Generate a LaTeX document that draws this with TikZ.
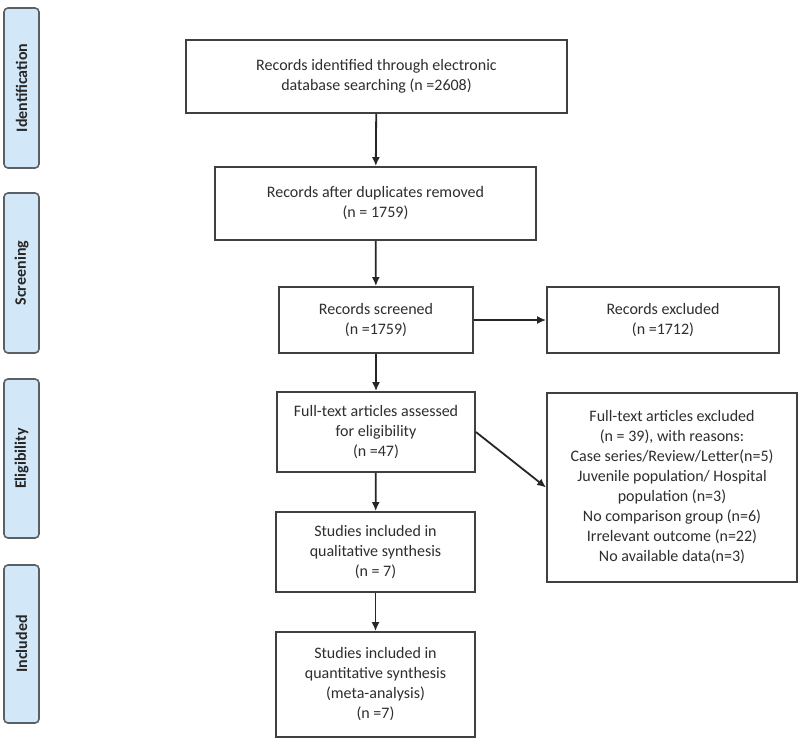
\documentclass[tikz,border=0pt]{standalone}
\usepackage{fontspec}
\setmainfont{Carlito}
\usetikzlibrary{arrows.meta}
\definecolor{txt}{HTML}{2E2E2E}
\definecolor{edge}{HTML}{404040}
\definecolor{sidefill}{HTML}{D2E8F8}
\definecolor{sideedge}{HTML}{5A6066}
\tikzset{
  flowbox/.style={draw=edge, line width=1.8pt, fill=white, text=txt, align=center,
    inner sep=2pt, font=\fontsize{16}{20}\selectfont},
  sidebox/.style={draw=sideedge, line width=1.6pt, fill=sidefill, rounded corners=4pt,
    rotate=90, text=black!85, font=\bfseries\fontsize{16}{19}\selectfont,
    minimum height=35pt, inner sep=0pt},
  flowarrow/.style={draw=black!85, line width=1.8pt, -{Latex[length=9pt,width=8pt]}}
}
\begin{document}
\begin{tikzpicture}[x=1pt,y=-1pt]
\useasboundingbox (0,0) rectangle (800,745);
% side labels
\node[sidebox, minimum width=160pt] (sid) at (21.5,88) {Identification};
\node[sidebox, minimum width=160pt] (ssc) at (21.5,273) {Screening};
\node[sidebox, minimum width=159pt] (sel) at (21.5,458.5) {Eligibility};
\node[sidebox, minimum width=158pt] (sin) at (21.5,644) {Included};
% boxes
\node[flowbox, minimum width=381pt, minimum height=73pt] (b1) at (376.5,76.5)
  {Records identified through electronic\\database searching (n =2608)};
\node[flowbox, minimum width=321pt, minimum height=73pt] (b2) at (375.5,203.5)
  {Records after duplicates removed\\(n = 1759)};
\node[flowbox, minimum width=194pt, minimum height=66pt] (b3) at (376,320)
  {Records screened\\(n =1759)};
\node[flowbox, minimum width=232pt, minimum height=66pt] (e1) at (663,320)
  {Records excluded\\(n =1712)};
\node[flowbox, minimum width=198pt, minimum height=80pt] (b4) at (376,432)
  {Full-text articles assessed\\for eligibility\\(n =47)};
\node[flowbox, minimum width=250pt, minimum height=189pt] (e2) at (672,487.5)
  {Full-text articles excluded\\(n = 39), with reasons:\\Case series/Review/Letter(n=5)\\Juvenile population/ Hospital\\population (n=3)\\No comparison group (n=6)\\Irrelevant outcome (n=22)\\No available data(n=3)};
\node[flowbox, minimum width=199pt, minimum height=80pt] (b5) at (375.5,552)
  {Studies included in\\qualitative synthesis\\(n = 7)};
\node[flowbox, minimum width=199pt, minimum height=105pt] (b6) at (375.5,684.5)
  {Studies included in\\quantitative synthesis\\(meta-analysis)\\(n =7)};
% arrows
\draw[flowarrow] (b1) -- (b2);
\draw[flowarrow] (b2) -- (b3);
\draw[flowarrow] (b3) -- (e1);
\draw[flowarrow] (b3) -- (b4);
\draw[flowarrow] (b4.east) -- (e2.west);
\draw[flowarrow] (b4) -- (b5);
\draw[flowarrow] (b5) -- (b6);
\end{tikzpicture}
\end{document}
